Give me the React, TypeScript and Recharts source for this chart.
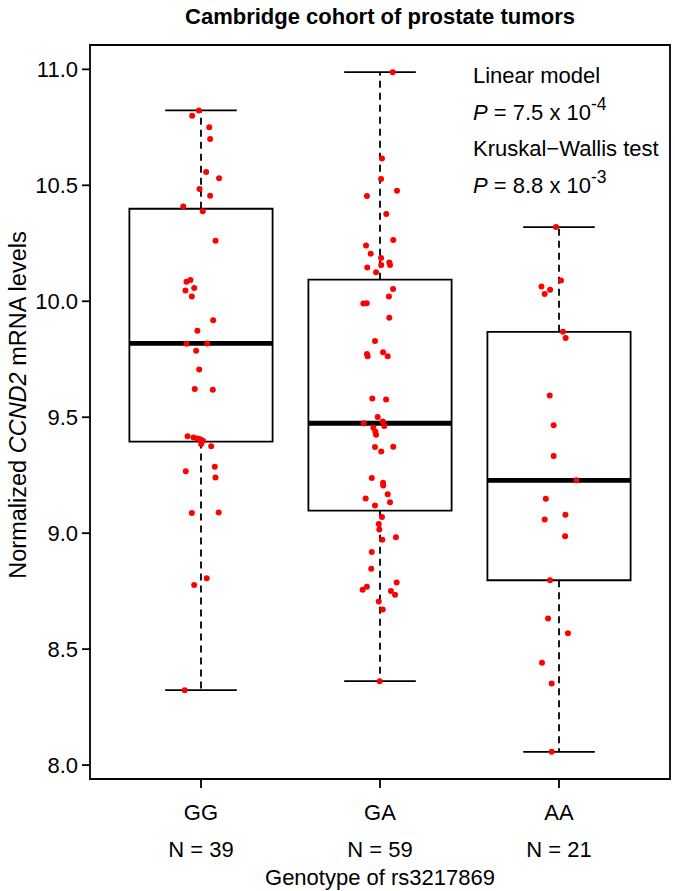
import { ComposedChart, Scatter, XAxis, YAxis, ReferenceArea, ReferenceLine } from 'recharts';

const genotypes = ['GG', 'GA', 'AA'];
const counts = [39, 59, 21];

// box statistics: lower whisker, Q1, median, Q3, upper whisker
const lowerWhisker = [8.323, 8.362, 8.057];
const q1 = [9.395, 9.097, 8.797];
const median = [9.818, 9.474, 9.228];
const q3 = [10.399, 10.093, 9.868];
const upperWhisker = [10.823, 10.988, 10.32];

// jittered points (horizontal jitter in category units)
const ggJitter = [-0.012, -0.049, 0.046, 0.051, 0.029, 0.101, -0.008, 0.051, -0.099, 0.01, 0.081, -0.081, -0.059, -0.038, -0.087, -0.051, 0.068, -0.02, -0.081, 0.035, -0.027, -0.01, -0.035, 0.066, -0.075, -0.042, -0.021, -0.004, 0.001, 0.057, 0.077, -0.085, 0.081, -0.051, 0.099, 0.032, -0.038, -0.091, 0.011];
const ggValues = [10.823, 10.8, 10.75, 10.7, 10.557, 10.53, 10.484, 10.455, 10.409, 10.388, 10.261, 10.084, 10.092, 10.057, 10.046, 10.021, 9.918, 9.873, 9.817, 9.818, 9.787, 9.706, 9.622, 9.618, 9.418, 9.413, 9.408, 9.405, 9.385, 9.375, 9.286, 9.267, 9.24, 9.087, 9.089, 8.806, 8.777, 8.323, 9.398];

const gaJitter = [0.071, 0.011, 0.006, 0.095, -0.073, 0.035, 0.074, -0.078, -0.052, 0.006, 0.052, 0.007, 0.056, -0.071, -0.022, 0.073, 0.05, -0.093, -0.074, 0.052, -0.028, -0.073, -0.069, 0.017, 0.043, -0.043, 0.034, -0.013, -0.091, 0.015, 0.024, -0.037, -0.026, -0.022, -0.028, 0.074, 0.007, -0.046, 0.017, 0.018, 0.043, -0.08, 0.056, -0.028, 0.011, -0.007, -0.004, 0.013, 0.089, -0.046, -0.049, 0.093, -0.073, -0.097, 0.061, 0.084, -0.007, 0.015, -0.002];
const gaValues = [10.988, 10.616, 10.527, 10.477, 10.454, 10.376, 10.264, 10.24, 10.205, 10.187, 10.167, 10.156, 10.156, 10.146, 10.125, 10.053, 10.021, 9.99, 9.991, 9.929, 9.829, 9.773, 9.763, 9.78, 9.763, 9.581, 9.576, 9.501, 9.474, 9.481, 9.462, 9.455, 9.437, 9.424, 9.372, 9.373, 9.352, 9.238, 9.217, 9.206, 9.168, 9.15, 9.133, 9.119, 9.07, 9.04, 9.016, 8.972, 8.982, 8.919, 8.847, 8.787, 8.769, 8.756, 8.751, 8.735, 8.705, 8.671, 8.362];

const aaJitter = [-0.017, 0.011, -0.098, -0.05, -0.08, 0.022, 0.037, -0.052, -0.03, -0.03, 0.097, -0.074, 0.036, -0.08, 0.034, -0.05, -0.061, 0.05, -0.095, -0.041, -0.041];
const aaValues = [10.32, 10.089, 10.064, 10.05, 10.031, 9.869, 9.842, 9.594, 9.465, 9.333, 9.228, 9.148, 9.079, 9.059, 8.987, 8.797, 8.632, 8.569, 8.441, 8.352, 8.057];

const yTicks = [8.0, 8.5, 9.0, 9.5, 10.0, 10.5, 11.0];

const FONT = '"Liberation Sans", Arial, Helvetica, sans-serif';

const jitters = [ggJitter, gaJitter, aaJitter];
const values = [ggValues, gaValues, aaValues];
const points = values.flatMap((vals, g) =>
  vals.map((v, i) => ({ x: g + 1 + jitters[g][i], y: v }))
);

const XTick = (props: any) => {
  const { x, y, payload } = props;
  const idx = Math.round(payload.value) - 1;
  return (
    <g>
      <text x={x} y={y + 30} textAnchor="middle" fontSize={22} fontFamily={FONT} fill="#000">
        {genotypes[idx]}
      </text>
      <text x={x} y={y + 67} textAnchor="middle" fontSize={22} fontFamily={FONT} fill="#000">
        {`N = ${counts[idx]}`}
      </text>
    </g>
  );
};

const Dot = (props: any) => <circle cx={props.cx} cy={props.cy} r={3} fill="#ff0000" />;

export default function App() {
  return (
    <div style={{ position: 'absolute', left: 0, top: 0, width: 675, height: 891, background: '#fff' }}>
      <ComposedChart width={675} height={891} margin={{ top: 45, right: 5, bottom: 0, left: 0 }}>
        <XAxis
          type="number"
          dataKey="x"
          domain={[0.38, 3.62]}
          ticks={[1, 2, 3]}
          allowDataOverflow
          axisLine={false}
          tickLine={{ stroke: '#000', strokeWidth: 1.8 }}
          tickSize={9}
          tick={<XTick />}
          height={112}
        />
        <YAxis
          type="number"
          domain={[7.94, 11.105]}
          ticks={yTicks}
          allowDataOverflow
          axisLine={false}
          tickLine={{ stroke: '#000', strokeWidth: 1.8 }}
          tickSize={8}
          tickMargin={4}
          width={90}
          tickFormatter={(v: number) => v.toFixed(1)}
          tick={{ fill: '#000', fontSize: 22, fontFamily: FONT }}
        />
        <ReferenceArea x1={0.38} x2={3.62} y1={7.94} y2={11.105} fill="none" stroke="#000" strokeWidth={1.8} ifOverflow="visible" />
        {genotypes.map((g, i) => {
          const c = i + 1;
          return [
            <ReferenceArea key={g + 'box'} x1={c - 0.4} x2={c + 0.4} y1={q1[i]} y2={q3[i]} fill="none" stroke="#000" strokeWidth={1.8} fillOpacity={1} />,
            <ReferenceLine key={g + 'wu'} segment={[{ x: c, y: q3[i] }, { x: c, y: upperWhisker[i] }]} stroke="#000" strokeWidth={1.8} strokeDasharray="7 5" />,
            <ReferenceLine key={g + 'wl'} segment={[{ x: c, y: q1[i] }, { x: c, y: lowerWhisker[i] }]} stroke="#000" strokeWidth={1.8} strokeDasharray="7 5" />,
            <ReferenceLine key={g + 'cu'} segment={[{ x: c - 0.2, y: upperWhisker[i] }, { x: c + 0.2, y: upperWhisker[i] }]} stroke="#000" strokeWidth={1.8} />,
            <ReferenceLine key={g + 'cl'} segment={[{ x: c - 0.2, y: lowerWhisker[i] }, { x: c + 0.2, y: lowerWhisker[i] }]} stroke="#000" strokeWidth={1.8} />,
            <ReferenceLine key={g + 'md'} segment={[{ x: c - 0.4, y: median[i] }, { x: c + 0.4, y: median[i] }]} stroke="#000" strokeWidth={4.8} />,
          ];
        })}
        <Scatter data={points} dataKey="y" shape={<Dot />} isAnimationActive={false} />
      </ComposedChart>
      <svg width={675} height={891} style={{ position: 'absolute', left: 0, top: 0, pointerEvents: 'none' }} fontFamily={FONT}>
        <text x={380} y={24} textAnchor="middle" fontSize={22} fontWeight="bold">
          Cambridge cohort of prostate tumors
        </text>
        <text x={380} y={885} textAnchor="middle" fontSize={22}>
          Genotype of rs3217869
        </text>
        <text transform="translate(26,405) rotate(-90)" textAnchor="middle" fontSize={23.5}>
          Normalized <tspan fontStyle="italic">CCND2</tspan> mRNA levels
        </text>
        <text x={473} y={83} fontSize={22}>Linear model</text>
        <text x={473} y={120} fontSize={22}>
          <tspan fontStyle="italic">P</tspan> = 7.5 x 10<tspan dy={-10} fontSize={17.5}>-4</tspan>
        </text>
        <text x={473} y={156} fontSize={22}>Kruskal{'\u2212'}Wallis test</text>
        <text x={473} y={193} fontSize={22}>
          <tspan fontStyle="italic">P</tspan> = 8.8 x 10<tspan dy={-10} fontSize={17.5}>-3</tspan>
        </text>
      </svg>
    </div>
  );
}
